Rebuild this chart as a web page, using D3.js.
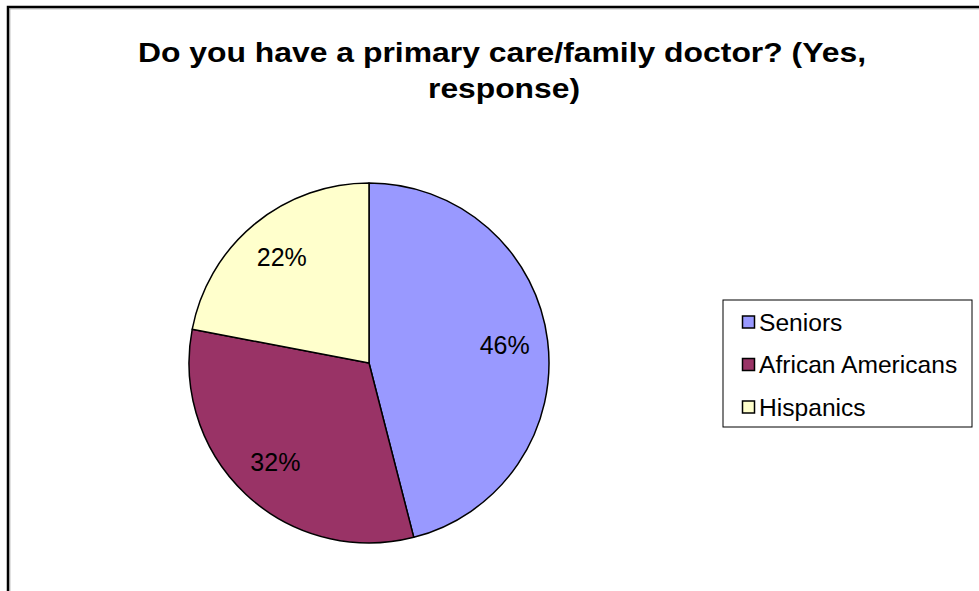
<!DOCTYPE html>
<html>
<head>
<meta charset="utf-8">
<script src="https://cdn.jsdelivr.net/npm/d3@7"></script>
<style>
    body { margin: 0; background: #fff; }
    text { font-family: Arial, "Liberation Sans", sans-serif; }
</style>
</head>
<body>
<div id="chart"></div>
<script>

// chart data
let categories = ["Seniors", "African Americans", "Hispanics"];
let shares = [46, 32, 22];
let colors = ["#9999ff", "#993366", "#ffffcc"];
let titleLines = ["Do you have a primary care/family doctor? (Yes,", "response)"];
let titleWidths = [728, 152];

let width = 979, height = 591;

let svg = d3.select("#chart").append("svg")
    .attr("width", width)
    .attr("height", height);

svg.append("rect")
    .attr("width", width)
    .attr("height", height)
    .attr("fill", "#fff");

// chart area frame (right and bottom edges are cut off)
svg.append("path")
    .attr("d", `M8,${height + 2} V7 H${width + 2}`)
    .attr("fill", "none")
    .attr("stroke", "#000")
    .attr("stroke-width", 2.5);
svg.append("path")
    .attr("d", `M9.8,${height + 2} V8.8 H${width + 2}`)
    .attr("fill", "none")
    .attr("stroke", "#999")
    .attr("stroke-width", 1);

// title, stretched to the width of the original's wider glyphs
svg.selectAll(".title")
    .data(titleLines)
    .enter().append("text")
    .attr("class", "title")
    .attr("x", (d, i) => i === 0 ? 502 : 504)
    .attr("y", (d, i) => 62 + i * 35.5)
    .attr("text-anchor", "middle")
    .attr("font-size", 27)
    .attr("font-weight", "bold")
    .attr("textLength", (d, i) => titleWidths[i])
    .attr("lengthAdjust", "spacingAndGlyphs")
    .text(d => d);

// pie
let cx = 369, cy = 363, radius = 180;
let data = categories.map((c, i) => ({name: c, value: shares[i], color: colors[i]}));

let pie = d3.pie().sort(null).value(d => d.value);
let arc = d3.arc().innerRadius(0).outerRadius(radius);
let labelArc = d3.arc().innerRadius(radius * 0.76).outerRadius(radius * 0.76);

let g = svg.append("g")
    .attr("transform", `translate(${cx}, ${cy})`);

g.selectAll(".slice")
    .data(pie(data))
    .enter().append("path")
    .attr("class", "slice")
    .attr("d", arc)
    .attr("fill", d => d.data.color)
    .attr("stroke", "#000")
    .attr("stroke-width", 1.5)
    .attr("stroke-linejoin", "round");

g.selectAll(".label")
    .data(pie(data))
    .enter().append("text")
    .attr("class", "label")
    .attr("transform", d => `translate(${labelArc.centroid(d)})`)
    .attr("text-anchor", "middle")
    .attr("dy", "0.33em")
    .attr("font-size", 25)
    .attr("fill", "#000")
    .text(d => d.data.value + "%");

// legend
let legend = svg.append("g")
    .attr("transform", "translate(723, 300)");

legend.append("rect")
    .attr("width", 249)
    .attr("height", 127)
    .attr("fill", "#fff")
    .attr("stroke", "#000")
    .attr("stroke-width", 1);

let item = legend.selectAll(".item")
    .data(data)
    .enter().append("g")
    .attr("class", "item")
    .attr("transform", (d, i) => `translate(0, ${22 + i * 42.5})`);

item.append("rect")
    .attr("x", 19.5)
    .attr("y", -6)
    .attr("width", 12)
    .attr("height", 12)
    .attr("fill", d => d.color)
    .attr("stroke", "#000")
    .attr("stroke-width", 1.5);

item.append("text")
    .attr("x", 36)
    .attr("dy", "0.36em")
    .attr("font-size", 24.6)
    .text(d => d.name);

</script>
</body>
</html>
